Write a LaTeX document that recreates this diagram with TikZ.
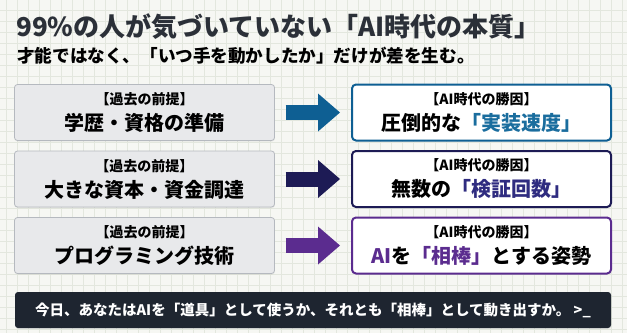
\documentclass[tikz,border=0pt]{standalone}
\usepackage{fontspec}
\setmainfont{Noto Sans CJK JP}
\usetikzlibrary{arrows.meta, positioning, shadows}
\definecolor{paper}{HTML}{F6F7F3}
\definecolor{gridc}{HTML}{E3E7DE}
\definecolor{titlec}{HTML}{2B3038}
\definecolor{oldfill}{HTML}{E8E9EB}
\definecolor{oldline}{HTML}{B5B9BF}
\definecolor{speedc}{HTML}{0E5F93}
\definecolor{speedhl}{HTML}{1A6D9E}
\definecolor{testc}{HTML}{1D1B55}
\definecolor{testhl}{HTML}{2F2C80}
\definecolor{matec}{HTML}{5B2C8F}
\definecolor{barc}{HTML}{1E2530}
\tikzset{
  softshadow/.style={drop shadow={shadow xshift=0.4pt,shadow yshift=-1pt,opacity=0.12}},
  oldbox/.style={rectangle,draw=oldline,fill=oldfill,line width=0.8pt,rounded corners=3pt,
    minimum width=260pt,minimum height=56pt,inner sep=0pt,outer sep=0pt,align=center,
    font=\fontsize{20}{26}\selectfont\bfseries,softshadow},
  newbox/.style={rectangle,draw=#1,fill=white,line width=2pt,rounded corners=4pt,
    minimum width=259pt,minimum height=56pt,inner sep=0pt,outer sep=0pt,align=center,
    font=\fontsize{20}{26}\selectfont\bfseries,softshadow},
  flow/.style={draw=#1,line width=15pt,shorten <=11pt,shorten >=12pt,
    -{Triangle[length=22pt,width=38pt,line width=0pt]}}
}
\newcommand{\tagtext}[1]{{\fontsize{14}{16}\selectfont #1}}

\begin{document}
\begin{tikzpicture}[x=1pt,y=-1pt,node distance=10.5pt and 77.5pt]
% paper and grid
\fill[paper] (0,0) rectangle (627,333);
\useasboundingbox (0,0) rectangle (627,333);
\foreach \gx in {0,...,56} \draw[gridc,line width=0.6pt] (6.3+11*\gx,0) -- (6.3+11*\gx,333);
\foreach \gy in {0,...,30} \draw[gridc,line width=0.6pt] (0,10+11*\gy) -- (627,10+11*\gy);

% headings
\node[anchor=west,inner sep=0pt,text=titlec,font=\fontsize{26}{30}\selectfont\bfseries] (title) at (16,27) {99\%の人が気づいていない「AI時代の本質」};
\node[anchor=west,inner sep=0pt,font=\fontsize{17.6}{20}\selectfont\bfseries] (sub) at (17,55.5) {才能ではなく、「いつ手を動かしたか」だけが差を生む。};

% before / after
\node[oldbox] (old1) at (144.5,112.5) {\tagtext{【過去の前提】}\\学歴・資格の準備};
\node[oldbox, below=of old1] (old2) {\tagtext{【過去の前提】}\\大きな資本・資金調達};
\node[oldbox, below=of old2] (old3) {\tagtext{【過去の前提】}\\プログラミング技術};
\node[newbox=speedc, right=of old1] (new1) {\tagtext{【AI時代の勝因】}\\圧倒的な{\color{speedhl}「実装速度」}};
\node[newbox=testc, right=of old2] (new2) {\tagtext{【AI時代の勝因】}\\無数の{\color{testhl}「検証回数」}};
\node[newbox=matec, right=of old3] (new3) {\tagtext{【AI時代の勝因】}\\{\color{matec}AI}を{\color{matec}「相棒」}とする姿勢};
\draw[flow=speedc] (old1) -- (new1);
\draw[flow=testc] (old2) -- (new2);
\draw[flow=matec] (old3) -- (new3);

% closing question
\node[rectangle,fill=barc,rounded corners=3pt,minimum width=596pt,minimum height=36pt,inner sep=0pt,
  text=white,font=\fontsize{14.5}{17}\selectfont\bfseries,softshadow] (ask) at (313,310)
  {今日、あなたはAIを「道具」として使うか、それとも「相棒」として動き出すか。 >\_};
\end{tikzpicture}
\end{document}
